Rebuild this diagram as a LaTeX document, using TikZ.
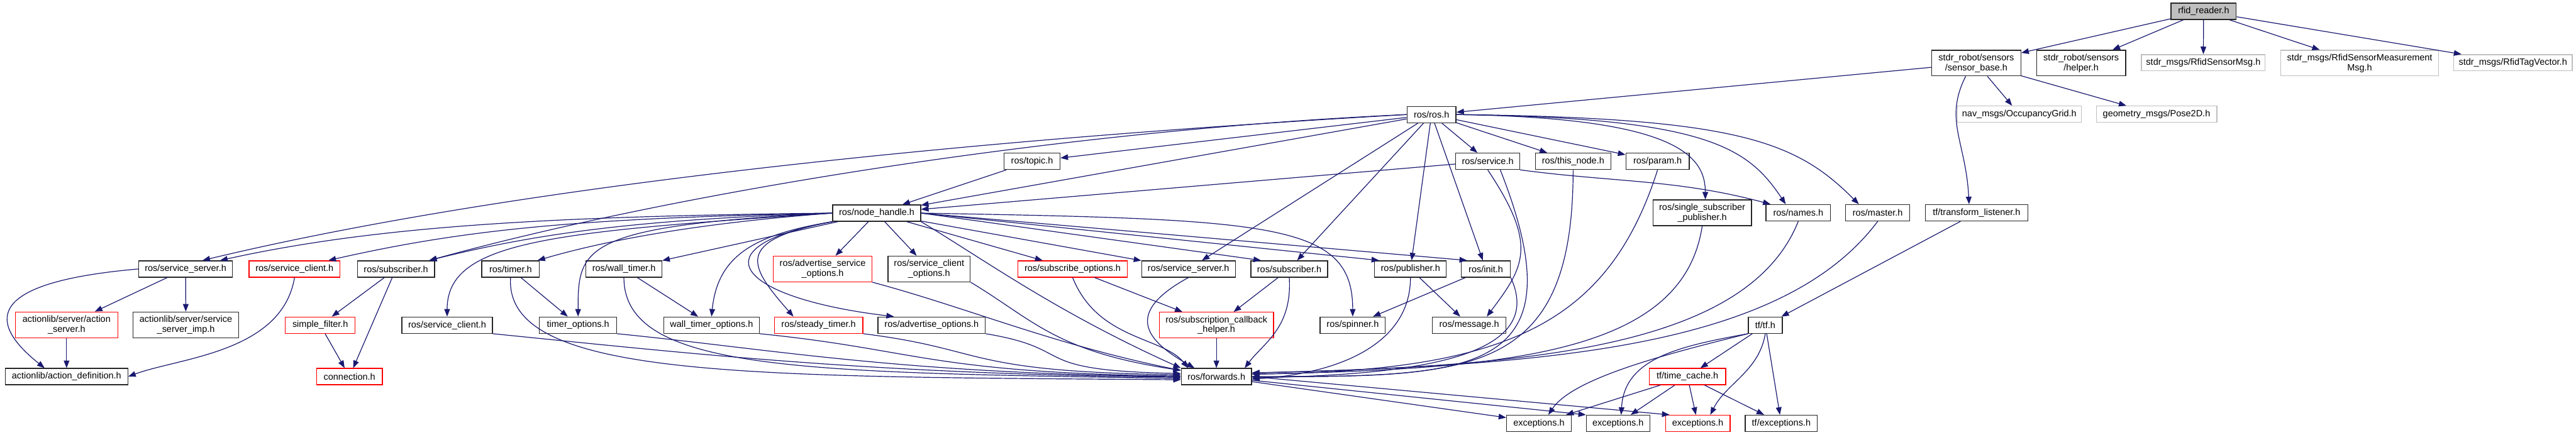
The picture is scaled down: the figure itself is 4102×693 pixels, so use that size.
\documentclass[tikz,border=0pt]{standalone}
\usepackage{fontspec}
\setmainfont{Liberation Sans}
\usetikzlibrary{arrows.meta}
\definecolor{edgeblue}{HTML}{191970}
\definecolor{undoc}{HTML}{BFBFBF}

\begin{document}
\begin{tikzpicture}[x=1pt, y=1pt, >={Triangle[length=12pt,width=9pt]},
  font=\fontsize{14.5}{16}\selectfont,
  hdr/.style={draw=black!85, fill=white, line width=1.3pt, inner sep=2pt,
              align=center, minimum height=26pt},
  tall/.style={minimum height=41pt},
  trunc/.style={hdr, draw=red},
  ext/.style={hdr, draw=undoc},
  root/.style={hdr, fill=undoc},
  wd/.style={minimum width=#1pt},
  incl/.style={->, draw=edgeblue, line width=1.2pt}]

\path[use as bounding box] (0,0) rectangle (4102,-693);

% the file itself and what it includes directly
\node[root, wd=104] (reader) at (3509,-18) {rfid\_reader.h};
\node[hdr, tall, wd=142] (sbase) at (3147,-100.5) {stdr\_robot/sensors\\/sensor\_base.h};
\node[hdr, tall, wd=142] (helper) at (3314,-100.5) {stdr\_robot/sensors\\/helper.h};
\node[ext, wd=197] (rsmsg) at (3508.5,-100) {stdr\_msgs/RfidSensorMsg.h};
\node[ext, tall, wd=251] (rsmeas) at (3757.5,-100.5) {stdr\_msgs/RfidSensorMeasurement\\Msg.h};
\node[ext, wd=189] (rtag) at (4001.5,-100) {stdr\_msgs/RfidTagVector.h};
\node[ext, wd=197] (occ) at (3215.5,-182) {nav\_msgs/OccupancyGrid.h};
\node[ext, wd=192] (pose) at (3434,-182) {geometry\_msgs/Pose2D.h};

% ros.h and the headers right below it
\node[hdr, wd=78] (ros) at (2279.5,-182.5) {ros/ros.h};
\node[hdr, wd=89] (topic) at (1643.5,-257) {ros/topic.h};
\node[hdr, wd=102] (service) at (2369,-257) {ros/service.h};
\node[hdr, wd=120] (thisnode) at (2505,-257) {ros/this\_node.h};
\node[hdr, wd=101] (param) at (2639.5,-257) {ros/param.h};
\node[hdr, wd=140] (nh) at (1396,-339.5) {ros/node\_handle.h};
\node[hdr, tall, wd=157] (ssp) at (2710.5,-339) {ros/single\_subscriber\\\_publisher.h};
\node[hdr, wd=103] (names) at (2863.5,-339) {ros/names.h};
\node[hdr, wd=102] (master) at (2990,-339) {ros/master.h};
\node[hdr, wd=163] (tfl) at (3147.5,-339) {tf/transform\_listener.h};

\node[hdr, wd=149] (ssrvA) at (295.5,-428.5) {ros/service\_server.h};
\node[trunc, wd=145] (sclA) at (469,-428.5) {ros/service\_client.h};
\node[hdr, wd=123] (subA) at (630.5,-428.5) {ros/subscriber.h};
\node[hdr, wd=92] (timer) at (813,-428.5) {ros/timer.h};
\node[hdr, wd=121] (wtimer) at (993.5,-428.5) {ros/wall\_timer.h};
\node[trunc, tall, wd=157] (aso) at (1310,-428.5) {ros/advertise\_service\\\_options.h};
\node[hdr, tall, wd=131] (sco) at (1479.5,-428.5) {ros/service\_client\\\_options.h};
\node[trunc, wd=174] (subo) at (1708,-428.5) {ros/subscribe\_options.h};
\node[hdr, wd=149] (ssrvB) at (1892.5,-428.5) {ros/service\_server.h};
\node[hdr, wd=122] (subB) at (2053,-428.5) {ros/subscriber.h};
\node[hdr, wd=114] (pub) at (2246,-428.5) {ros/publisher.h};
\node[hdr, wd=78] (init) at (2366,-428.5) {ros/init.h};

\node[trunc, tall, wd=163] (aserver) at (106,-517.5) {actionlib/server/action\\\_server.h};
\node[hdr, tall, wd=168] (ssimp) at (296,-517.5) {actionlib/server/service\\\_server\_imp.h};
\node[trunc, wd=111] (sfilter) at (510,-518) {simple\_filter.h};
\node[hdr, wd=144] (sclB) at (712,-518) {ros/service\_client.h};
\node[hdr, wd=123] (topts) at (920.5,-518) {timer\_options.h};
\node[hdr, wd=152] (wtopts) at (1133,-518) {wall\_timer\_options.h};
\node[trunc, wd=141] (stimer) at (1303.5,-518) {ros/steady\_timer.h};
\node[hdr, wd=171] (aopts) at (1483.5,-518) {ros/advertise\_options.h};
\node[trunc, tall, wd=182] (scbh) at (1937,-518) {ros/subscription\_callback\\\_helper.h};
\node[hdr, wd=104] (spinner) at (2154,-518) {ros/spinner.h};
\node[hdr, wd=117] (msg) at (2339.5,-518) {ros/message.h};
\node[hdr, wd=54] (tf) at (2811,-518) {tf/tf.h};

\node[hdr, wd=195] (adef) at (106,-600) {actionlib/action\_definition.h};
\node[trunc, wd=105] (conn) at (556.5,-600) {connection.h};
\node[hdr, wd=112] (fwd) at (1937,-600) {ros/forwards.h};
\node[trunc, wd=122] (tcache) at (2687,-600) {tf/time\_cache.h};
\node[hdr, wd=103] (excA) at (2450.5,-674.5) {exceptions.h};
\node[hdr, wd=101] (excB) at (2576.5,-674.5) {exceptions.h};
\node[trunc, wd=103] (excC) at (2703.5,-674.5) {exceptions.h};
\node[hdr, wd=115] (tfexc) at (2836.5,-674.5) {tf/exceptions.h};

% rfid_reader.h and sensor_base.h
\draw[incl] (reader) -- (sbase);
\draw[incl] (reader) -- (helper);
\draw[incl] (reader) -- (rsmsg);
\draw[incl] (reader) -- (rsmeas);
\draw[incl] (reader) -- (rtag);
\draw[incl] (sbase) -- (ros);
\draw[incl] (sbase) -- (occ);
\draw[incl] (sbase) -- (pose);
\draw[incl] ([xshift=-17pt]sbase.south) .. controls +(-35,-70) and +(-5,100) .. ([xshift=-12pt]tfl.north);

% ros.h
\draw[incl] (ros) -- (topic);
\draw[incl] (ros) -- (nh);
\draw[incl] (ros.west) .. controls +(-700,-40) and +(500,120) .. ([xshift=27pt]ssrvA.north);
\draw[incl] (ros.west) .. controls +(-550,-25) and +(400,110) .. ([xshift=53pt]subA.north);
\draw[incl] (ros) -- (ssrvB);
\draw[incl] (ros) -- (subB);
\draw[incl] (ros) -- (pub);
\draw[incl] (ros) -- (init);
\draw[incl] (ros) -- (service);
\draw[incl] (ros) -- (thisnode);
\draw[incl] (ros) -- (param);
\draw[incl] (ros.east) .. controls +(350,-5) and +(0,70) .. ([xshift=5pt]ssp.north);
\draw[incl] (ros.east) .. controls +(400,-5) and +(-60,90) .. ([xshift=-20pt]names.north);
\draw[incl] (ros.east) .. controls +(450,-5) and +(-100,100) .. ([xshift=-30pt]master.north);

\draw[incl] (topic) -- (nh);
\draw[incl] (service) -- (nh);
\draw[incl] (service.south east) .. controls +(150,-20) and +(-150,40) .. ([xshift=8pt]names.north west);
\draw[incl] (service.south) .. controls +(80,-120) and +(60,80) .. ([xshift=28pt]msg.north);
\draw[incl] ([xshift=20pt]service.south) .. controls +(130,-330) and +(350,0) .. (fwd.east);
\draw[incl] (thisnode.south) .. controls +(0,-330) and +(350,0) .. (fwd.east);
\draw[incl] (param.south) .. controls +(-80,-250) and +(400,5) .. (fwd.4);
\draw[incl] (ssp.south) .. controls +(-30,-200) and +(420,8) .. (fwd.4);
\draw[incl] (names.south) .. controls +(-80,-200) and +(450,10) .. (fwd.6);
\draw[incl] (master.south) .. controls +(-150,-200) and +(480,12) .. (fwd.6);

% node_handle.h
\draw[incl] (nh.west) .. controls +(-450,-5) and +(250,55) .. ([xshift=55pt]ssrvA.north);
\draw[incl] (nh.west) .. controls +(-400,-8) and +(220,50) .. ([xshift=54pt]sclA.north);
\draw[incl] (nh.west) .. controls +(-300,-10) and +(180,45) .. ([xshift=53pt]subA.north);
\draw[incl] (nh.west) .. controls +(-200,-15) and +(120,35) .. ([xshift=43pt]timer.north);
\draw[incl] (nh) -- (wtimer);
\draw[incl] (nh.west) .. controls +(-450,-30) and +(0,120) .. (sclB.north);
\draw[incl] (nh.west) .. controls +(-400,-20) and +(0,110) .. (topts.north);
\draw[incl] (nh.south west) .. controls +(-120,-20) and +(10,100) .. (wtopts.north);
\draw[incl] (nh.south west) .. controls +(-160,-30) and +(-70,80) .. ([xshift=-40pt]stimer.north);
\draw[incl] (nh.south west) .. controls +(-220,-40) and +(-250,30) .. ([xshift=-60pt]aopts.north);
\draw[incl] (nh) -- (aso);
\draw[incl] (nh) -- (sco);
\draw[incl] (nh) -- (subo);
\draw[incl] (nh) -- (ssrvB);
\draw[incl] (nh.east) -- ([xshift=-45pt]subB.north);
\draw[incl] (nh.east) -- ([xshift=-50pt]pub.north);
\draw[incl] (nh.east) -- ([xshift=-30pt]init.north);
\draw[incl] (nh.east) .. controls +(560,-10) and +(0,150) .. (spinner.north);
\draw[incl] (nh.south east) .. controls +(100,-60) and +(-200,90) .. (fwd.north west);

% left part
\draw[incl] (ssrvA) -- (aserver);
\draw[incl] (ssrvA) -- (ssimp);
\draw[incl] (ssrvA.west) .. controls +(-230,-20) and +(-100,80) .. ([xshift=-35pt]adef.north);
\draw[incl] (aserver) -- (adef);
\draw[incl] (sclA.south) .. controls +(-20,-120) and +(80,30) .. (adef.east);
\draw[incl] (subA) -- (sfilter);
\draw[incl] (subA) -- (conn);
\draw[incl] (sfilter) -- (conn);
\draw[incl] (timer) -- (topts);
\draw[incl] (wtimer) -- (wtopts);

% everything that ends in forwards.h from the left
\draw[incl] (timer.south) .. controls +(-10,-160) and +(-700,5) .. (fwd.185);
\draw[incl] (wtimer.south) .. controls +(0,-150) and +(-600,10) .. (fwd.183);
\draw[incl] (sclB.south east) .. controls +(300,-30) and +(-500,5) .. (fwd.181);
\draw[incl] (topts.south east) .. controls +(250,-25) and +(-450,5) .. (fwd.west);
\draw[incl] (wtopts.south east) .. controls +(250,-25) and +(-400,5) .. (fwd.179);
\draw[incl] (stimer.south east) .. controls +(200,-25) and +(-350,5) .. (fwd.177);
\draw[incl] (aopts.south east) .. controls +(150,-25) and +(-250,5) .. (fwd.175);
\draw[incl] (aso.south east) .. controls +(150,-40) and +(-200,40) .. (fwd.170);
\draw[incl] (sco.south east) .. controls +(100,-60) and +(-200,30) .. (fwd.170);
\draw[incl] (subo.south) .. controls +(40,-100) and +(-40,50) .. ([xshift=-45pt]fwd.north);
\draw[incl] (ssrvB.south) .. controls +(-110,-60) and +(-70,40) .. ([xshift=-35pt]fwd.north);
\draw[incl] (subo) -- (scbh);
\draw[incl] (subB) -- (scbh);
\draw[incl] (subB.south) .. controls +(5,-80) and +(30,40) .. ([xshift=45pt]fwd.north);
\draw[incl] (scbh) -- (fwd);

\draw[incl] (pub) -- (msg);
\draw[incl] (pub.south) .. controls +(0,-100) and +(150,10) .. (fwd.-4);
\draw[incl] (init) -- (spinner);
\draw[incl] (init.south east) .. controls +(60,-130) and +(250,5) .. (fwd.-2);

% tf side
\draw[incl] (tfl) -- (tf);
\draw[incl] (tf.south west) .. controls +(-120,-30) and +(40,60) .. ([xshift=15pt]excA.north);
\draw[incl] (tf.south west) .. controls +(-110,-20) and +(5,90) .. ([xshift=5pt]excB.north);
\draw[incl] (tf) -- (tcache);
\draw[incl] (tf.south) .. controls +(-10,-60) and +(25,50) .. ([xshift=20pt]excC.north);
\draw[incl] (tf) -- (tfexc);
\draw[incl] (tcache) -- (excA);
\draw[incl] (tcache) -- (excB);
\draw[incl] (tcache) -- (excC);
\draw[incl] (tcache) -- (tfexc);

\draw[incl] (fwd) -- (excA.170);
\draw[incl] (fwd) -- (excB.north west);
\draw[incl] (fwd.east) -- ([xshift=-45pt]excC.north);
\end{tikzpicture}
\end{document}
